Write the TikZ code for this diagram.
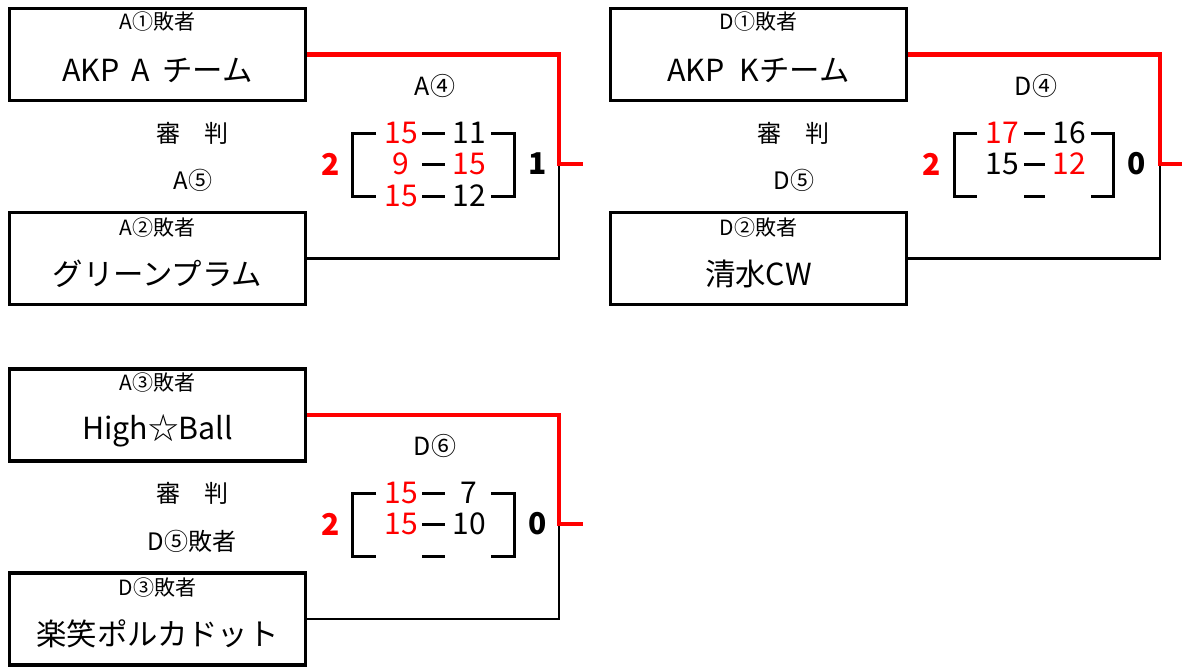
\documentclass[tikz,border=0pt]{standalone}
\usepackage{fontspec}
\setmainfont{Noto Sans CJK JP}
\usetikzlibrary{calc, positioning}

\begin{document}
\begin{tikzpicture}[
    x=0.5pt, y=-0.5pt,
    every node/.style={inner sep=1pt},
    team/.style    ={draw=black, line width=1.6pt,
                     minimum width=148pt, minimum height=46pt},
    hdr/.style     ={font=\fontsize{10.5}{12}\selectfont},
    teamname/.style={font=\fontsize{15.2}{17}\selectfont},
    refer/.style   ={font=\fontsize{12}{14}\selectfont},
    game/.style    ={font=\fontsize{12.5}{14}\selectfont},
    pts/.style     ={font=\fontsize{15}{17}\selectfont},
    total/.style   ={font=\fontsize{15}{17}\selectfont\bfseries},
    brk/.style     ={line width=1.5pt, draw=black},
    lose/.style    ={line width=1.4pt, draw=black},
    win/.style     ={line width=2.3pt, draw=red},
  ]

  \useasboundingbox (0,0) rectangle (1182,666);

  %% =====================================================================
  %% Panel A4
  %% =====================================================================
  \begin{scope}
    % team boxes
    \node[team] (a1) at (157.5,54.5) {};
    \node[team] (a2) at (157.5,258.5) {};
    \node[hdr] (a1h) at ($(a1.center)+(0,-32.5)$) {A①敗者};
    \node[teamname] (a1n) at ($(a1.center)+(0,15.5)$)
          {AKP\hspace{0.4em}A\hspace{0.4em}チーム};
    \node[hdr] (a2h) at ($(a2.center)+(0,-31)$) {A②敗者};
    \node[teamname] (a2n) at ($(a2.center)+(0,15)$) {グリーンプラム};
    % referee
    \node[refer] (ar) at (192,133) {審　判};
    \node[refer] (arw) at (193,180) {A⑤};
    % match title
    \node[game] (ag) at (435,86) {A④};
    % set scores
    \node[pts, text=red] (a1l) at (401,133) {15};
    \node[pts]           (a1r) at (469,133) {11};
    \node[pts, text=red] (a2l) at (401,164) {9};
    \node[pts, text=red] (a2r) at (469,164) {15};
    \node[pts, text=red] (a3l) at (401,196) {15};
    \node[pts]           (a3r) at (469,196) {12};
    \node[total, text=red] (atl) at (331,164) {2};
    \node[total]           (atr) at (538,164) {1};
    % brackets and dashes
    \draw[brk] (376,133) -| (352,196) -- (376,196);
    \draw[brk] (491,133) -| (514,196) -- (491,196);
    \foreach \r in {133,164,196}
      \draw[brk] (422,\r) -- (445,\r);
    % connectors
    \coordinate (aj) at (559,164);
    \coordinate (ae) at (583,164);
    \draw[lose] (a2.east) -| (aj);
    \draw[win] (a1.east) -| (aj) -- (ae);
  \end{scope}

  %% =====================================================================
  %% Panel D4
  %% =====================================================================
  \begin{scope}[shift={(600,0)}]
    \node[team] (d1) at (158.5,54.5) {};
    \node[team] (d2) at (158.5,258.5) {};
    \node[hdr] (d1h) at ($(d1.center)+(0,-32.5)$) {D①敗者};
    \node[teamname] (d1n) at ($(d1.center)+(0,15.5)$)
          {AKP\hspace{0.5em}Kチーム};
    \node[hdr] (d2h) at ($(d2.center)+(0,-31)$) {D②敗者};
    \node[teamname] (d2n) at ($(d2.center)+(0,15)$) {清水CW};
    \node[refer] (dr) at (193,133) {審　判};
    \node[refer] (drw) at (194,180) {D⑤};
    \node[game] (dg) at (436,86) {D④};
    \node[pts, text=red] (d1l) at (402,133) {17};
    \node[pts]           (d1r) at (469,133) {16};
    \node[pts]           (d2l) at (402,164) {15};
    \node[pts, text=red] (d2r) at (469,164) {12};
    \node[total, text=red] (dtl) at (332,164) {2};
    \node[total]           (dtr) at (537,164) {0};
    \draw[brk] (377,133) -| (354,196) -- (377,196);
    \draw[brk] (491,133) -| (513,196) -- (491,196);
    \foreach \r in {133,164,196}
      \draw[brk] (424,\r) -- (445,\r);
    \coordinate (dj) at (560,164);
    \coordinate (de) at (583,164);
    \draw[lose] (d2.east) -| (dj);
    \draw[win] (d1.east) -| (dj) -- (de);
  \end{scope}

  %% =====================================================================
  %% Panel D6
  %% =====================================================================
  \begin{scope}[shift={(0,360)}]
    \node[team] (e1) at (157.5,55) {};
    \node[team] (e2) at (157.5,259) {};
    \node[hdr] (e1h) at ($(e1.center)+(0,-32.5)$) {A③敗者};
    \node[teamname] (e1n) at ($(e1.center)+(0,15.5)$) {High☆Ball};
    \node[hdr] (e2h) at ($(e2.center)+(0,-31)$) {D③敗者};
    \node[teamname] (e2n) at ($(e2.center)+(0,15)$) {楽笑ポルカドット};
    \node[refer] (er) at (192,133) {審　判};
    \node[refer] (erw) at (192,181) {D⑤敗者};
    \node[game] (eg) at (435,86) {D⑥};
    \node[pts, text=red] (e1l) at (401,133) {15};
    \node[pts]           (e1r) at (469,133) {7};
    \node[pts, text=red] (e2l) at (401,164) {15};
    \node[pts]           (e2r) at (469,164) {10};
    \node[total, text=red] (etl) at (331,164) {2};
    \node[total]           (etr) at (538,164) {0};
    \draw[brk] (376,133) -| (352,196) -- (376,196);
    \draw[brk] (491,133) -| (514,196) -- (491,196);
    \foreach \r in {133,164,196}
      \draw[brk] (422,\r) -- (445,\r);
    \coordinate (ej) at (559,164);
    \coordinate (ee) at (583,164);
    \draw[lose] (e2.east) -| (ej);
    \draw[win] (e1.east) -| (ej) -- (ee);
  \end{scope}

\end{tikzpicture}
\end{document}
